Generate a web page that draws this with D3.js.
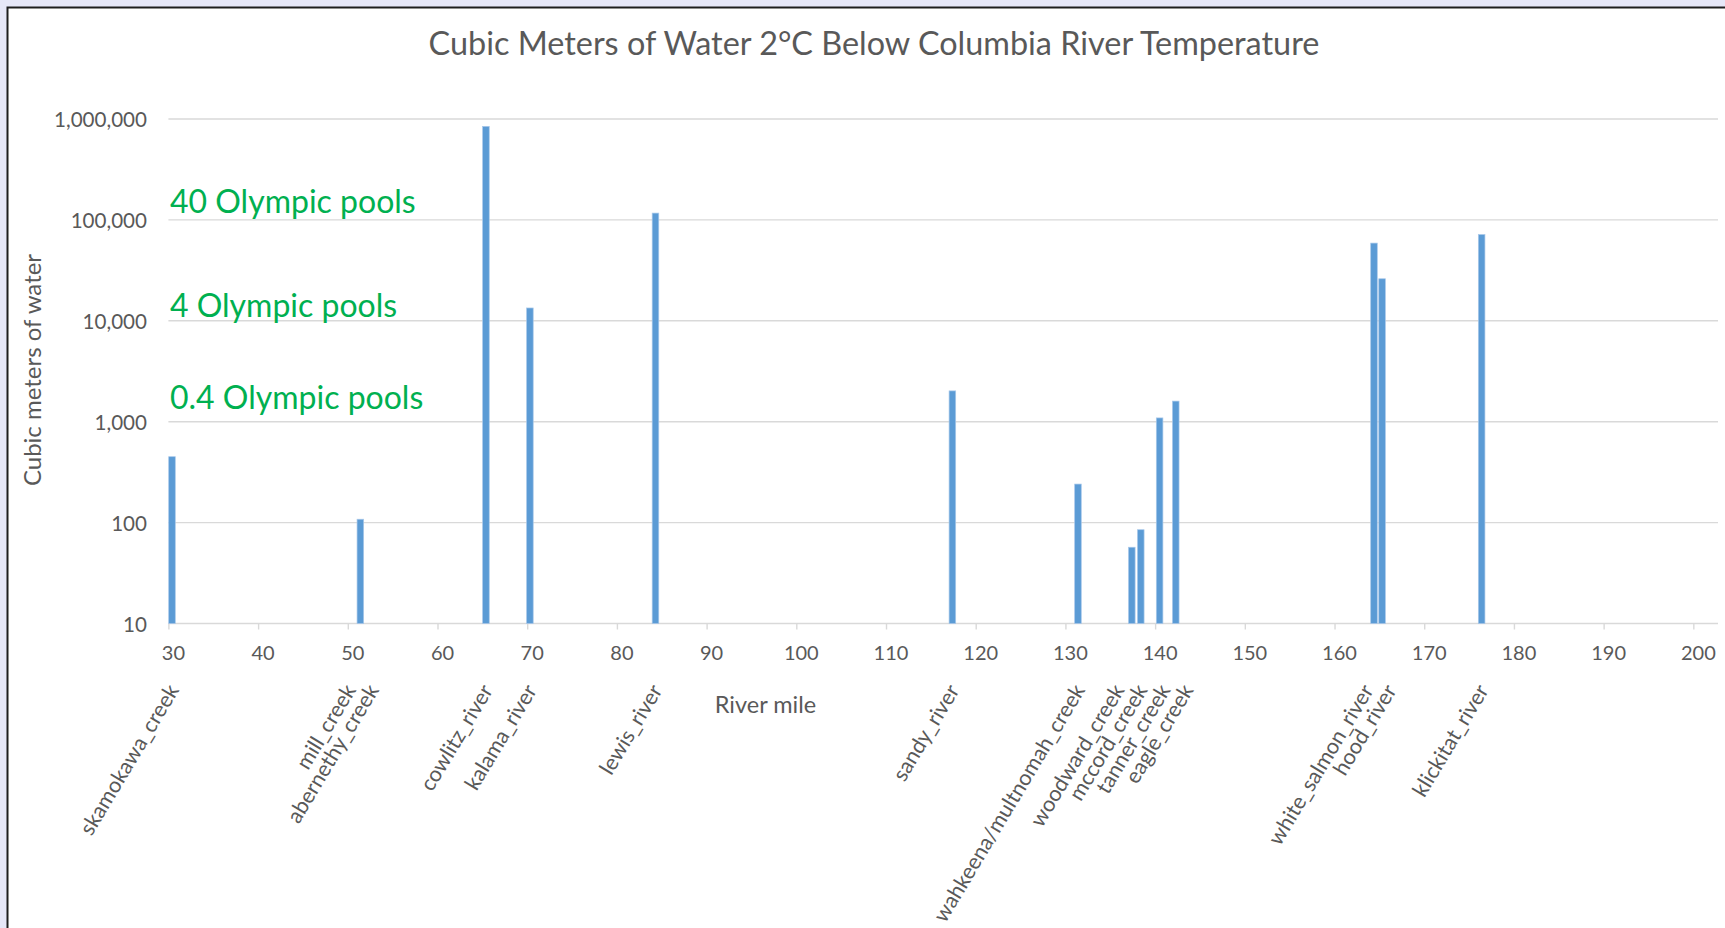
<!DOCTYPE html>
<html>
<head>
<meta charset="utf-8">
<script src="https://cdn.jsdelivr.net/npm/d3@7"></script>
<style>
  html, body { margin: 0; padding: 0; background: #e6e7f8; }
  svg { display: block; }
  text { font-family: Lato, "Open Sans", sans-serif; }
</style>
</head>
<body>
<svg id="chart" width="1725" height="928"></svg>
<script>
// Streams entering the Columbia, their river mile and cold-water volume (m³)
const streams = ["skamokawa_creek", "mill_creek", "abernethy_creek", "cowlitz_river",
  "kalama_river", "lewis_river", "sandy_river", "wahkeena/multnomah_creek",
  "woodward_creek", "mccord_creek", "tanner_creek", "eagle_creek",
  "white_salmon_river", "hood_river", "klickitat_river"];
const riverMiles = [30.4, 51.4, 51.4, 65.4, 70.3, 84.3, 117.4, 131.4,
  137.4, 138.4, 140.5, 142.3, 164.4, 165.3, 176.4];
const volumes = [450, null, 108, 845000, 13400, 116800, 2020, 241,
  57, 85, 1090, 1600, 58900, 26100, 71600];

// Axis ticks
const mileTicks = d3.range(30, 201, 10);
const volumeTicks = [10, 100, 1000, 10000, 100000, 1000000];

// Reference volumes expressed in Olympic pools (2,500 m³ each)
const poolVolumes = [100000, 10000, 1000];
const poolLabels = ["40 Olympic pools", "4 Olympic pools", "0.4 Olympic pools"];

const titleText = "Cubic Meters of Water 2°C Below Columbia River Temperature";
const xTitle = "River mile";
const yTitle = "Cubic meters of water";

const svg = d3.select("#chart");
const grey = "#595959";

// Chart frame
svg.append("rect")
  .attr("x", 7.5).attr("y", 7.5)
  .attr("width", 1740).attr("height", 940)
  .attr("fill", "#ffffff")
  .attr("stroke", "#1e1e1e").attr("stroke-width", 2);

const x = d3.scaleLinear().domain([30, 202.75]).range([168.4, 1718]);
const y = d3.scaleLog().domain([10, 1e6]).range([623.5, 119]);

// Horizontal gridlines (the lowest one doubles as the x axis line)
svg.append("g").selectAll("line").data(volumeTicks).join("line")
  .attr("x1", x.range()[0]).attr("x2", x.range()[1])
  .attr("y1", d => y(d)).attr("y2", d => y(d))
  .attr("stroke", "#d9d9d9").attr("stroke-width", 1.4);

// Y axis labels
const yAxis = d3.axisLeft(y).tickValues(volumeTicks).tickFormat(d3.format(",")).tickSize(0).tickPadding(0);
const gy = svg.append("g").attr("transform", "translate(147,1)").call(yAxis);
gy.select(".domain").remove();
gy.selectAll("text").attr("fill", grey).attr("font-size", 20.6);

// X axis ticks + labels
const xAxis = d3.axisBottom(x).tickValues(mileTicks).tickFormat(d3.format("d")).tickSize(6).tickPadding(0);
const gx = svg.append("g").attr("transform", `translate(0,${y(10)})`).call(xAxis);
gx.select(".domain").remove();
gx.selectAll(".tick line").attr("stroke", "#d9d9d9").attr("stroke-width", 1.4);
gx.selectAll(".tick text")
  .attr("fill", grey).attr("font-size", 20)
  .attr("x", 4.5).attr("y", 0).attr("dy", 0)
  .attr("transform", "translate(0,36)");

// Bars
const rows = streams.map((name, i) => ({ name, mile: riverMiles[i], volume: volumes[i] }));
const barW = 6.6;
svg.append("g").selectAll("rect").data(rows.filter(d => d.volume != null)).join("rect")
  .attr("x", d => x(d.mile) - barW / 2)
  .attr("y", d => y(d.volume))
  .attr("width", barW)
  .attr("height", d => y(10) - y(d.volume))
  .attr("fill", "#5b9bd5")
  .attr("stroke", "#a8c8ea").attr("stroke-width", 0.7);

// Stream labels under the axis, spread apart where they would collide
const minGap = 23;
const anchors = rows.map(d => ({ name: d.name, pos: x(d.mile) - 6 }));
let clusters = anchors.map(a => ({ items: [a], mean: a.pos }));
let merged = true;
while (merged) {
  merged = false;
  for (let i = 0; i < clusters.length - 1; i++) {
    const a = clusters[i], b = clusters[i + 1];
    const aEnd = a.mean + (a.items.length - 1) * minGap / 2;
    const bStart = b.mean - (b.items.length - 1) * minGap / 2;
    if (bStart - aEnd < minGap) {
      const items = a.items.concat(b.items);
      clusters.splice(i, 2, { items, mean: d3.mean(items, t => t.pos) });
      merged = true;
      break;
    }
  }
}
clusters.forEach(c => c.items.forEach((t, k) => {
  t.place = c.mean + (k - (c.items.length - 1) / 2) * minGap;
}));

svg.append("g").selectAll("text").data(anchors).join("text")
  .attr("transform", d => `translate(${d.place},682) rotate(-59)`)
  .attr("text-anchor", "end")
  .attr("dy", "0.74em")
  .attr("fill", grey).attr("font-size", 21.5)
  .text(d => d.name);

// Olympic pool annotations
const poolShift = [-7, -4, -12.5];
svg.append("g").selectAll("text").data(poolVolumes).join("text")
  .attr("x", 170)
  .attr("y", (d, i) => y(d) + poolShift[i])
  .attr("fill", "#00b050")
  .attr("font-family", "'Liberation Sans', Arial, sans-serif")
  .attr("font-size", 32)
  .text((d, i) => poolLabels[i]);

// Titles
svg.append("text")
  .attr("x", 874).attr("y", 55)
  .attr("text-anchor", "middle")
  .attr("fill", grey).attr("font-size", 32.4)
  .text(titleText);

svg.append("text")
  .attr("x", 765.5).attr("y", 712.5)
  .attr("text-anchor", "middle")
  .attr("fill", grey).attr("font-size", 23.5)
  .text(xTitle);

svg.append("text")
  .attr("transform", "translate(41,370) rotate(-90)")
  .attr("text-anchor", "middle")
  .attr("fill", grey).attr("font-size", 24)
  .text(yTitle);
</script>
</body>
</html>
